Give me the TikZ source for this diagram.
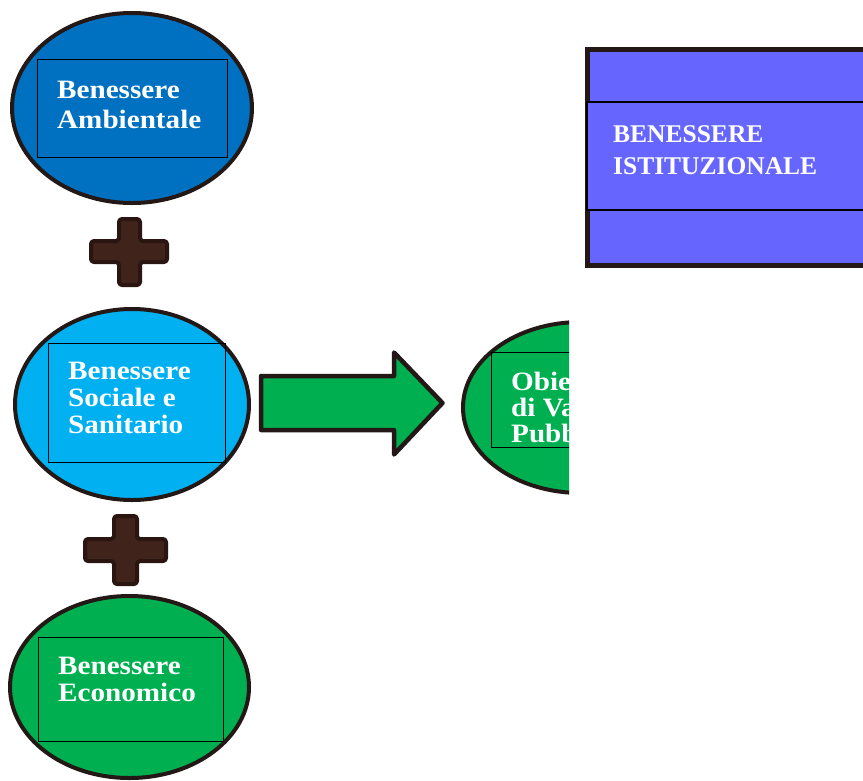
\documentclass[tikz,border=0pt]{standalone}
\usepackage{tikz}
\usepackage{fontspec}
\usetikzlibrary{shapes.geometric}
\newfontfamily\lblfont[FakeStretch=1.1]{Liberation Serif}
\newfontfamily\capfont{Liberation Serif}
\definecolor{edge}{HTML}{231815}
\definecolor{plusfill}{HTML}{40231B}
\definecolor{plusedge}{HTML}{2A1510}
\definecolor{cblue}{HTML}{0070C0}
\definecolor{ccyan}{HTML}{00B0F0}
\definecolor{cgreen}{HTML}{00B050}
\definecolor{cviolet}{HTML}{6666FF}
\tikzset{
  oval/.style={ellipse, draw=edge, line width=4pt, inner sep=0pt},
  innerbox/.style={draw=black, line width=0.8pt, inner sep=0pt},
  label/.style={anchor=north west, inner sep=0pt, align=left, text=white,
    font=\lblfont\fontsize{26.5}{27}\selectfont\bfseries},
  plusshape/.style={fill=plusfill, draw=plusedge, line width=4pt, rounded corners=3pt, line join=round},
  bigarrow/.style={fill=cgreen, draw=edge, line width=4.5pt, line join=round}
}
\begin{document}
\begin{tikzpicture}[x=1pt,y=-1pt]
\useasboundingbox (0,0) rectangle (863,780);

% Benessere Ambientale
\node[oval, fill=cblue, minimum width=240, minimum height=190] (amb) at (132,108) {};
\node[innerbox, minimum width=190, minimum height=98] (ambbox) at (132,108) {};
\node[label, font=\lblfont\fontsize{26.5}{30}\selectfont\bfseries] (ambtxt) at (57,80.5) {Benessere\\Ambientale};

% plus 1
\draw[plusshape] (119,219) -- (140,219) -- (140,241) -- (167,241) -- (167,262) -- (140,262)
  -- (140,285) -- (119,285) -- (119,262) -- (91,262) -- (91,241) -- (119,241) -- cycle;

% Benessere Sociale e Sanitario
\node[oval, fill=ccyan, minimum width=234, minimum height=191] (soc) at (132,404.5) {};
\node[innerbox, minimum width=177, minimum height=119] (socbox) at (136.5,402.5) {};
\node[label] (soctxt) at (68,362) {Benessere\\Sociale e\\Sanitario};

% plus 2
\draw[plusshape] (114,516) -- (137,516) -- (137,539) -- (166,539) -- (166,561) -- (137,561)
  -- (137,584) -- (114,584) -- (114,561) -- (85,561) -- (85,539) -- (114,539) -- cycle;

% Benessere Economico
\node[oval, fill=cgreen, minimum width=239, minimum height=182] (eco) at (129.5,687) {};
\node[innerbox, minimum width=185, minimum height=104] (ecobox) at (130.5,689) {};
\node[label] (ecotxt) at (58,657) {Benessere\\Economico};

% big arrow
\draw[bigarrow] (261,376) -- (394,376) -- (394,352.5) -- (442.5,403) -- (394,454.5)
  -- (394,430) -- (261,430) -- cycle;

% Obiettivo di Valore Pubblico (clipped)
\begin{scope}
\clip (440,300) rectangle (569,505);
\node[oval, fill=cgreen, minimum width=236, minimum height=171] (obj) at (581,407.5) {};
\node[innerbox, minimum width=160, minimum height=95] (objbox) at (571,399.5) {};
\node[label, font=\lblfont\fontsize{26.5}{26}\selectfont\bfseries] (objtxt) at (511,372) {Obiettivo\\di Valore\\Pubblico};
\end{scope}

% Benessere Istituzionale
\node[draw=edge, line width=5pt, fill=cviolet, minimum width=320, minimum height=216, inner sep=0pt] (ist) at (747.5,157.5) {};
\node[draw=black, line width=2pt, fill=cviolet, minimum width=320, minimum height=108, inner sep=0pt] (istband) at (747,156) {};
\node[label, font=\capfont\fontsize{25.5}{32}\selectfont\bfseries] (isttxt) at (613,125) {BENESSERE\\ISTITUZIONALE};
\end{tikzpicture}
\end{document}
